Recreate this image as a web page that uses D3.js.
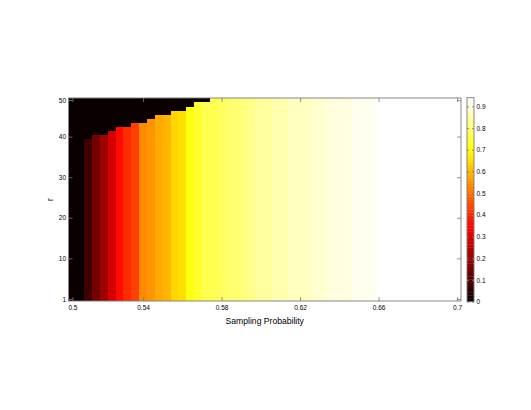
<!DOCTYPE html>
<html>
<head>
<meta charset="utf-8">
<script src="https://cdn.jsdelivr.net/npm/d3@7/dist/d3.min.js"></script>
<style>
  html, body { margin: 0; padding: 0; background: #fff; }
  svg { display: block; font-family: "Liberation Sans", Arial, Helvetica, sans-serif; }
  .tick text { fill: #000; }
</style>
</head>
<body>
<script>
  // one column per sampling probability step, rows are r = 1..50
  var columnIndex = [1, 2, 3, 4, 5, 6, 7, 8, 9, 10, 11, 12, 13, 14, 15, 16, 17, 18, 19, 20,
    21, 22, 23, 24, 25, 26, 27, 28, 29, 30, 31, 32, 33, 34, 35, 36, 37, 38, 39, 40,
    41, 42, 43, 44, 45, 46, 47, 48, 49, 50];

  // value shown in each column (below its boundary)
  var columnValues = [0, 0, 0.085, 0.147, 0.22, 0.29, 0.36, 0.40, 0.43, 0.53,
    0.55, 0.575, 0.596, 0.635, 0.65, 0.705, 0.735, 0.765, 0.775, 0.785,
    0.80, 0.807, 0.815, 0.83, 0.838, 0.845, 0.858, 0.864, 0.87, 0.875,
    0.88, 0.888, 0.893, 0.898, 0.905, 0.91, 0.914, 0.918, 0.922, 0.94,
    0.94, 0.94, 0.94, 0.94, 0.94, 0.94, 0.94, 0.94, 0.94, 0.94];

  // highest r that still carries the column value, above it the cell is 0
  var columnHeights = [0, 0, 40, 41, 41, 42, 43, 43, 44, 44,
    45, 46, 46, 47, 47, 48, 49, 49, 50, 50,
    50, 50, 50, 50, 50, 50, 50, 50, 50, 50,
    50, 50, 50, 50, 50, 50, 50, 50, 50, 50,
    50, 50, 50, 50, 50, 50, 50, 50, 50, 50];

  var xTickPos = [1, 10, 20, 30, 40, 50];
  var xTickLabels = ['0.5', '0.54', '0.58', '0.62', '0.66', '0.7'];
  var yTickPos = [1, 11, 21, 31, 41, 50];
  var yTickLabels = ['1', '10', '20', '30', '40', '50'];
  var colorTicks = [0, 0.1, 0.2, 0.3, 0.4, 0.5, 0.6, 0.7, 0.8, 0.9];
  var colorMax = 0.94;
  var rowCount = 50;

  var width = 531, height = 410;
  var plot = { left: 68.5, right: 461, top: 98, bottom: 301 };
  var bar = { left: 467, right: 474, top: 97.7, bottom: 301.7 };
  var axisColor = '#7a7a7a';

  // matlab style "hot" colormap, 64 entries
  var hotColors = d3.range(64).map(function(i) {
    var n = i + 1;
    var r = Math.min(1, n / 24);
    var g = Math.max(0, Math.min(1, (n - 24) / 24));
    var b = Math.max(0, Math.min(1, (n - 48) / 16));
    return d3.rgb(r * 255, g * 255, b * 255).formatHex();
  });

  var color = d3.scaleQuantize()
    .domain([0, colorMax])
    .range(hotColors);

  var x = d3.scaleLinear()
    .domain([0.5, columnIndex.length + 0.5])
    .range([plot.left, plot.right]);

  var y = d3.scaleLinear()
    .domain([0.5, rowCount + 0.5])
    .range([plot.bottom, plot.top]);

  var svg = d3.select('body').append('svg')
    .attr('width', width)
    .attr('height', height);

  // cells
  var cells = [];
  columnIndex.forEach(function(c, i) {
    d3.range(1, rowCount + 1).forEach(function(r) {
      cells.push({ col: c, row: r, value: r <= columnHeights[i] ? columnValues[i] : 0 });
    });
  });

  svg.append('g')
    .attr('class', 'cells')
    .selectAll('rect')
    .data(cells)
    .enter().append('rect')
      .attr('x', function(d) { return x(d.col - 0.5); })
      .attr('y', function(d) { return y(d.row + 0.5); })
      .attr('width', function(d) { return x(d.col + 0.5) - x(d.col - 0.5) + 0.4; })
      .attr('height', function(d) { return y(d.row - 0.5) - y(d.row + 0.5) + 0.4; })
      .attr('fill', function(d) { return color(d.value); })
      .attr('shape-rendering', 'crispEdges');

  function styleAxis(g) {
    g.select('.domain').remove();
    g.selectAll('.tick line').attr('stroke', axisColor).attr('stroke-width', 0.8);
    g.selectAll('.tick text').attr('font-size', '6.5px');
  }

  // x axis, ticks point inward on bottom and top
  svg.append('g')
    .attr('transform', 'translate(0,' + plot.bottom + ')')
    .call(d3.axisBottom(x).tickValues(xTickPos).tickSize(-4).tickPadding(4)
      .tickFormat(function(d, i) { return xTickLabels[i]; }))
    .call(styleAxis);

  svg.append('g')
    .attr('transform', 'translate(0,' + plot.top + ')')
    .call(d3.axisTop(x).tickValues(xTickPos).tickSize(-4).tickFormat(''))
    .call(styleAxis);

  svg.append('g')
    .attr('transform', 'translate(' + plot.left + ',0)')
    .call(d3.axisLeft(y).tickValues(yTickPos).tickSize(-4).tickPadding(2.5)
      .tickFormat(function(d, i) { return yTickLabels[i]; }))
    .call(styleAxis);

  svg.append('g')
    .attr('transform', 'translate(' + plot.right + ',0)')
    .call(d3.axisRight(y).tickValues(yTickPos).tickSize(-4).tickFormat(''))
    .call(styleAxis);

  svg.append('rect')
    .attr('x', plot.left)
    .attr('y', plot.top)
    .attr('width', plot.right - plot.left)
    .attr('height', plot.bottom - plot.top)
    .attr('fill', 'none')
    .attr('stroke', axisColor)
    .attr('stroke-width', 0.9);

  svg.append('text')
    .attr('x', (plot.left + plot.right) / 2)
    .attr('y', 323.5)
    .attr('text-anchor', 'middle')
    .attr('font-size', '8.6px')
    .text('Sampling Probability');

  svg.append('text')
    .attr('transform', 'translate(53,' + ((plot.top + plot.bottom) / 2) + ') rotate(-90)')
    .attr('text-anchor', 'middle')
    .attr('font-size', '8.6px')
    .text('r');

  // colorbar
  var cy = d3.scaleLinear()
    .domain([0, colorMax])
    .range([bar.bottom, bar.top]);

  var bandStep = colorMax / hotColors.length;
  svg.append('g')
    .selectAll('rect')
    .data(hotColors)
    .enter().append('rect')
      .attr('x', bar.left)
      .attr('width', bar.right - bar.left)
      .attr('y', function(d, i) { return cy((i + 1) * bandStep); })
      .attr('height', function(d, i) { return cy(i * bandStep) - cy((i + 1) * bandStep) + 0.3; })
      .attr('fill', function(d) { return d; });

  svg.append('g')
    .attr('transform', 'translate(' + bar.right + ',0)')
    .call(d3.axisRight(cy).tickValues(colorTicks).tickSize(-2).tickPadding(2.5)
      .tickFormat(function(d) { return d === 0 ? '0' : d3.format('.1f')(d); }))
    .call(styleAxis);

  svg.append('g')
    .attr('transform', 'translate(' + bar.left + ',0)')
    .call(d3.axisLeft(cy).tickValues(colorTicks).tickSize(-2).tickFormat(''))
    .call(styleAxis);

  svg.append('rect')
    .attr('x', bar.left)
    .attr('y', bar.top)
    .attr('width', bar.right - bar.left)
    .attr('height', bar.bottom - bar.top)
    .attr('fill', 'none')
    .attr('stroke', axisColor)
    .attr('stroke-width', 0.9);
</script>
</body>
</html>
